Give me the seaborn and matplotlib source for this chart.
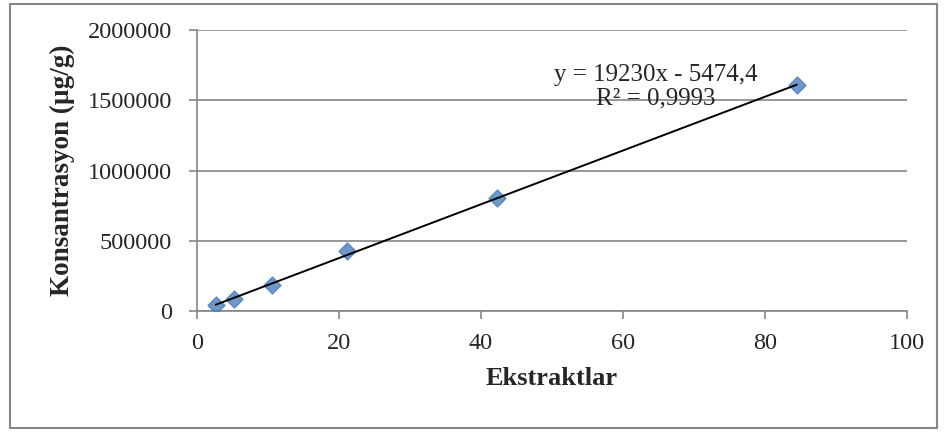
import numpy as np
import pandas as pd
import seaborn as sns
import matplotlib.pyplot as plt
from matplotlib.patches import Rectangle

# values
ekstrakt = [2.64, 5.28, 10.56, 21.12, 42.24, 84.48]
konsantrasyon = [45000, 82000, 185000, 425000, 805000, 1605000]
x_ticks = [0, 20, 40, 60, 80, 100]
y_ticks = [0, 500000, 1000000, 1500000, 2000000]
equation = "y = 19230x - 5474,4\nR² = 0,9993"

df = pd.DataFrame({"Ekstraktlar": ekstrakt, "Konsantrasyon": konsantrasyon})

sns.set_style("white")
plt.rcParams["font.family"] = ["Liberation Serif", "DejaVu Serif"]

grid_col = "#868686"
fig = plt.figure(figsize=(9.47, 4.32), dpi=100)
ax = fig.add_axes([197 / 947, 1 - 311 / 432, 710 / 947, 281 / 432])

sns.regplot(data=df, x="Ekstraktlar", y="Konsantrasyon", ci=None, ax=ax,
            marker="D", scatter_kws={"s": 75, "color": "#4A7EBB", "zorder": 3},
            line_kws={"color": "black", "lw": 1.4, "zorder": 4})

ax.set_xlim(0, 100)
ax.set_ylim(0, 2000000)
ax.set_xticks(x_ticks)
ax.set_yticks(y_ticks)
ax.set_xticklabels([str(v) for v in x_ticks], fontsize=17.5)
ax.set_yticklabels([str(v) for v in y_ticks], fontsize=17.5)
ax.yaxis.grid(True, color=grid_col, lw=1.2)
ax.set_axisbelow(True)
for s in ["top", "right"]:
    ax.spines[s].set_visible(False)
for s in ["left", "bottom"]:
    ax.spines[s].set_color(grid_col)
    ax.spines[s].set_linewidth(1.2)
ax.tick_params(axis="both", direction="out", length=6, width=1.2, color=grid_col,
               left=True, bottom=True)
ax.tick_params(axis="x", pad=10)
ax.tick_params(axis="y", pad=12)

ax.set_xlabel("Ekstraktlar", fontsize=19, fontweight="bold", labelpad=9)
ax.set_ylabel("Konsantrasyon (µg/g)", fontsize=19.5, fontweight="bold", labelpad=9)

ax.text(0.646, 0.797, equation, transform=ax.transAxes, fontsize=18,
        ha="center", va="center", linespacing=1.1)

fig.patches.append(Rectangle((10 / 947, 4 / 432), 927 / 947, 424 / 432,
                             transform=fig.transFigure, fill=False,
                             edgecolor=grid_col, lw=1.5))

fig.savefig("out.png", dpi=100)
